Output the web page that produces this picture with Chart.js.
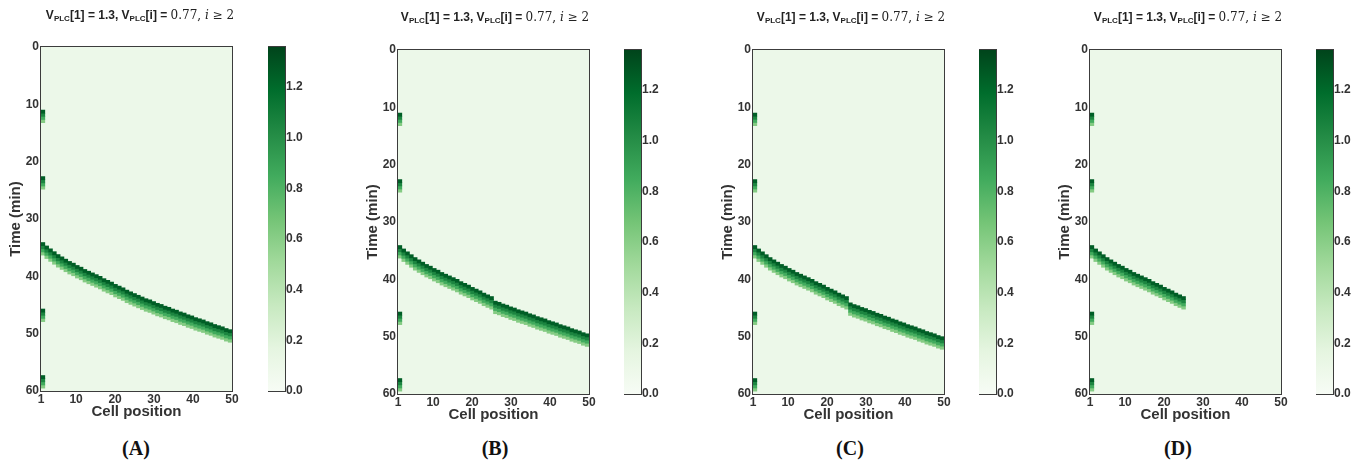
<!DOCTYPE html>
<html><head><meta charset="utf-8">
<script src="https://cdn.jsdelivr.net/npm/chart.js@4.4.0/dist/chart.umd.min.js"></script>
<style>
html,body{margin:0;padding:0;background:#fff;}
body{width:1365px;height:460px;overflow:hidden;position:relative;font-family:"Liberation Sans",Arial,sans-serif;}
canvas{position:absolute;top:0;}
.ttl{position:absolute;font-size:12px;font-weight:bold;color:#222;white-space:nowrap;transform:translate(-50%,-50%);}
.ttl sub{font-size:8px;vertical-align:-2px;line-height:0}
.ttl .m{font-family:"DejaVu Serif",serif;font-weight:normal;}
.lbl{position:absolute;font-family:"Liberation Serif","Times New Roman",serif;font-weight:bold;font-size:20px;transform:translate(-50%,-50%);color:#111;}
</style></head><body>
<script>
// ---- data ----
const cells = [1,2,3,4,5,6,7,8,9,10,11,12,13,14,15,16,17,18,19,20,21,22,23,24,25,26,27,28,29,30,31,32,33,34,35,36,37,38,39,40,41,42,43,44,45,46,47,48,49,50];
// time (min) at which the Ca wave reaches each cell
const frontA = [34.1,34.7,35.2,35.7,36.2,36.6,37.0,37.4,37.7,38.1,38.4,38.8,39.1,39.4,39.7,40.0,40.4,40.7,41.0,41.4,41.7,42.0,42.4,42.7,43.0,
                43.3,43.6,43.9,44.1,44.4,44.7,44.9,45.2,45.4,45.7,45.9,46.2,46.4,46.7,46.9,47.2,47.4,47.6,47.9,48.1,48.4,48.6,48.8,49.1,49.3];
const frontB = [34.1,34.7,35.2,35.7,36.2,36.6,37.0,37.4,37.7,38.1,38.4,38.8,39.1,39.4,39.7,40.0,40.4,40.7,41.0,41.4,41.7,42.0,42.4,42.7,43.0,
                43.8,44.0,44.3,44.5,44.8,45.0,45.3,45.5,45.7,46.0,46.2,46.5,46.7,46.9,47.2,47.4,47.6,47.9,48.1,48.3,48.6,48.8,49.0,49.3,49.5];
const frontC = [34.1,34.7,35.2,35.7,36.2,36.6,37.0,37.4,37.7,38.1,38.4,38.8,39.1,39.4,39.7,40.0,40.4,40.7,41.0,41.4,41.7,42.0,42.4,42.7,43.0,
                44.1,44.4,44.6,44.9,45.1,45.4,45.6,45.9,46.1,46.4,46.6,46.9,47.1,47.4,47.6,47.9,48.1,48.3,48.6,48.8,49.1,49.3,49.5,49.8,50.0];
const frontD = [34.1,34.7,35.2,35.7,36.2,36.6,37.0,37.4,37.7,38.1,38.4,38.8,39.1,39.4,39.7,40.0,40.4,40.7,41.0,41.4,41.7,42.0,42.4,42.7,43.0];
// extra spikes of the pacemaker cell 1 (min)
const cell1Pulses = [11.0, 22.6, 45.7, 57.3];
// intensity profile of one spike, top to bottom, and duration of each step (min)
const bandLevels = [1.25, 1.05, 0.85, 0.62];
const bandStep = 0.55;
const backgroundLevel = 0.1;
const vmax = 1.357;
const xTicks = [1,10,20,30,40,50];
const yTicks = [0,10,20,30,40,50,60];
const cbarTicks = [0,0.2,0.4,0.6,0.8,1.0,1.2];
const panelNames = ['(A)','(B)','(C)','(D)'];

// ---- colour map (matplotlib Greens) ----
const greensStops = ['#f7fcf5','#e5f5e0','#c7e9c0','#a1d99b','#74c476','#41ab5d','#238b45','#006d2c','#00441b'];
function hex2rgb(h){return [1,3,5].map(i=>parseInt(h.substr(i,2),16));}
function greens(f){
  f=Math.max(0,Math.min(1,f)); const n=greensStops.length-1; const p=f*n; const i=Math.min(n-1,Math.floor(p)); const r=p-i;
  const a=hex2rgb(greensStops[i]), b=hex2rgb(greensStops[i+1]);
  return 'rgb('+a.map((v,k)=>Math.round(v+(b[k]-v)*r)).join(',')+')';
}

const TXT='#333';
const tickFont={family:'"Liberation Sans", Arial, sans-serif',size:12,weight:'bold'};
const titleFont={family:'"Liberation Sans", Arial, sans-serif',size:15,weight:'bold'};
const noGrid={display:false,drawTicks:false,tickLength:0};

const framePlugin={
  id:'frame',
  beforeDatasetsDraw(c,args,o){const a=c.chartArea,x=c.ctx;if(o.bg){x.save();x.fillStyle=o.bg;x.fillRect(a.left,a.top,a.right-a.left,a.bottom-a.top);x.restore();}},
  afterDatasetsDraw(c){const a=c.chartArea,x=c.ctx;x.save();x.strokeStyle='#3c3c3c';x.lineWidth=1;x.strokeRect(a.left-0.5,a.top-0.5,a.right-a.left+1,a.bottom-a.top+1);x.restore();}
};

function cellCenter(c){return 1+(c-0.5)*49/50;}

const panels=[
 {front:frontA,plot:{l:41,t:47,r:232,b:391},cb:{l:268,r:285},title:[140,15],label:[136,448]},
 {front:frontB,plot:{l:398,t:50,r:589,b:394},cb:{l:624,r:641},title:[495,17],label:[495,448]},
 {front:frontC,plot:{l:753,t:50,r:944,b:394},cb:{l:979,r:996},title:[851,17],label:[850,448]},
 {front:frontD,plot:{l:1090,t:50,r:1281,b:394},cb:{l:1316,r:1333},title:[1188,17],label:[1178,448]}
];

function mkCanvas(left,w,h){const c=document.createElement('canvas');c.width=w;c.height=h;c.style.left=left+'px';c.style.width=w+'px';c.style.height=h+'px';document.body.appendChild(c);return c;}

panels.forEach((p,pi)=>{
  const P=p.plot;
  // heat map
  const cl=P.l-41, cw=P.r-cl+18, ch=P.b+39;
  const cv=mkCanvas(cl,cw,ch);
  const datasets=bandLevels.map((lev,k)=>{
    const pts=[];
    p.front.forEach((t,i)=>pts.push({x:cellCenter(cells[i]),y:[t+k*bandStep,t+(k+1)*bandStep]}));
    cell1Pulses.forEach(t=>pts.push({x:cellCenter(cells[0]),y:[t+k*bandStep,t+(k+1)*bandStep]}));
    return {data:pts,backgroundColor:greens(lev/vmax),borderWidth:0,grouped:false,barPercentage:1,categoryPercentage:1};
  });
  new Chart(cv,{type:'bar',data:{datasets},
    options:{responsive:false,animation:false,devicePixelRatio:1,
      layout:{padding:{top:P.t,right:18,bottom:0,left:0}},
      plugins:{legend:{display:false},tooltip:{enabled:false},frame:{bg:greens(backgroundLevel/vmax)}},
      scales:{
        x:{type:'linear',min:1,max:50,offset:false,grid:noGrid,border:{display:false},
           afterBuildTicks:s=>{s.ticks=xTicks.map(v=>({value:v}));},
           afterFit:s=>{s.height=ch-P.b;},
           ticks:{autoSkip:false,maxRotation:0,padding:1,color:TXT,font:tickFont},
           title:{display:true,text:'Cell position',color:TXT,font:titleFont,padding:{top:0,bottom:9}}},
        y:{type:'linear',reverse:true,min:0,max:60,grid:noGrid,border:{display:false},
           afterBuildTicks:s=>{s.ticks=yTicks.map(v=>({value:v}));},
           afterFit:s=>{s.width=41;},
           ticks:{autoSkip:false,padding:2,color:TXT,font:tickFont},
           title:{display:true,text:'Time (min)',color:TXT,font:titleFont,padding:{top:7,bottom:0}}}
      }},
    plugins:[framePlugin]});

  // colour bar
  const cbw=p.cb.r-p.cb.l, bcw=cbw+32, bch=P.b+12;
  const cb=mkCanvas(p.cb.l,bcw,bch);
  new Chart(cb,{type:'bar',
    data:{labels:['v'],datasets:[{data:[[0,vmax]],borderWidth:0,barPercentage:1,categoryPercentage:1,
      backgroundColor:(ctx)=>{const a=ctx.chart.chartArea;if(!a)return greensStops[4];
        const g=ctx.chart.ctx.createLinearGradient(0,a.bottom,0,a.top);greensStops.forEach((c,i)=>g.addColorStop(i/(greensStops.length-1),c));return g;}}]},
    options:{responsive:false,animation:false,devicePixelRatio:1,
      layout:{padding:{top:P.t,right:0,bottom:12,left:0}},
      plugins:{legend:{display:false},tooltip:{enabled:false}},
      scales:{
        x:{display:false,offset:true},
        y:{position:'right',min:0,max:vmax,grid:noGrid,border:{display:false},
           afterBuildTicks:s=>{s.ticks=cbarTicks.map(v=>({value:v}));},
           afterFit:s=>{s.width=32;},
           ticks:{autoSkip:false,padding:1,color:TXT,font:tickFont,callback:v=>Number(v).toFixed(1)}}
      }},
    plugins:[framePlugin]});

  // title and panel label
  const t=document.createElement('div');t.className='ttl';t.style.left=p.title[0]+'px';t.style.top=p.title[1]+'px';
  t.innerHTML='V<sub>PLC</sub>[1] = 1.3, V<sub>PLC</sub>[i] = <span class="m">0.77, <i>i</i> ≥ 2</span>';
  document.body.appendChild(t);
  const l=document.createElement('div');l.className='lbl';l.style.left=p.label[0]+'px';l.style.top=p.label[1]+'px';l.textContent=panelNames[pi];
  document.body.appendChild(l);
});
</script>
</body></html>
